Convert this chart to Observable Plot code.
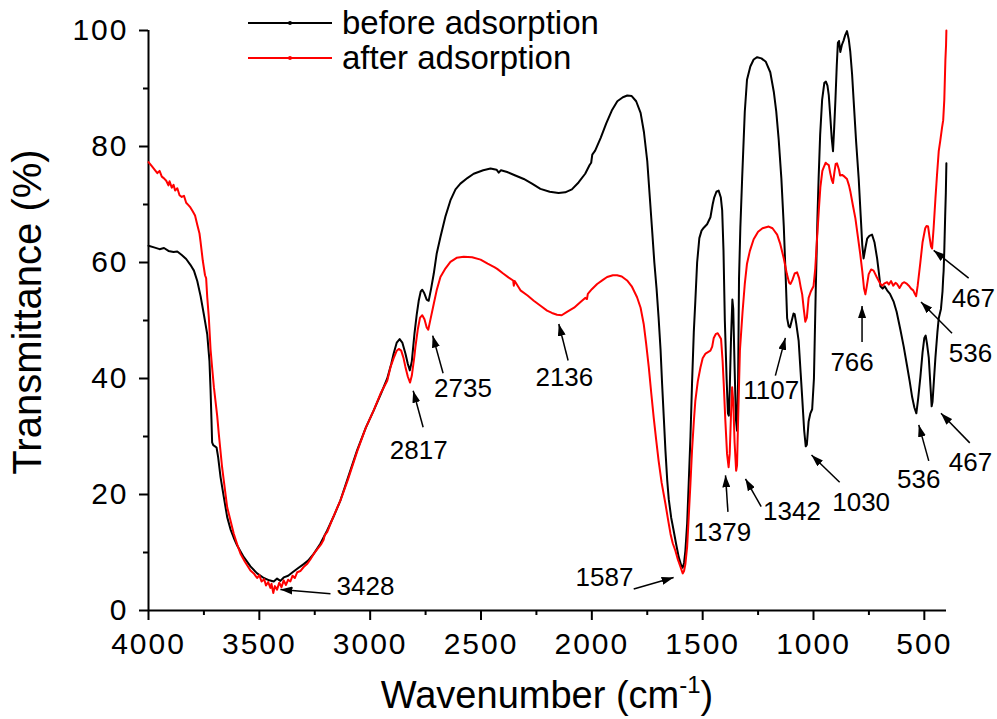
<!DOCTYPE html>
<html>
<head>
<meta charset="utf-8">
<script src="https://cdn.jsdelivr.net/npm/d3@7"></script>
<script src="https://cdn.jsdelivr.net/npm/@observablehq/plot@0.6"></script>
<style>
  body { margin: 0; background: #fff; }
  #chart svg { display: block; }
  g[aria-label="x-axis tick label"] text, g[aria-label="y-axis tick label"] text { letter-spacing: 2px; }
</style>
</head>
<body>
<div id="chart"></div>
<script>
// ---- Axis ticks ----
const xMajorTicks = [4000, 3500, 3000, 2500, 2000, 1500, 1000, 500];
const xMinorTicks = [3750, 3250, 2750, 2250, 1750, 1250, 750];
const yMajorTicks = [0, 20, 40, 60, 80, 100];
const yMinorTicks = [10, 30, 50, 70, 90];
const xDomain = [4000, 400];
const yDomain = [0, 100];

// ---- Series: before adsorption (black) ----
const beforeWn = [4000,3975,3950,3930,3910,3887,3870,3850,3830,3811,3795,3780,3765,3750,3735,3725,3720,3716,3713,3708,3700,3693,3686,3675,3660,3645,3630,3615,3600,3570,3540,3510,3480,3455,3435,3420,3405,3390,3370,3350,3329,3300,3280,3254,3225,3194,3165,3134,3100,3059,3020,2984,2950,2923,2905,2894,2880,2867,2855,2841,2830,2821,2812,2800,2790,2781,2772,2765,2757,2745,2736,2725,2713,2700,2683,2660,2638,2615,2593,2560,2533,2490,2457,2430,2420,2410,2382,2345,2307,2270,2232,2190,2150,2120,2090,2060,2030,2010,2003,1998,1985,1960,1935,1910,1885,1860,1840,1820,1800,1780,1765,1750,1738,1727,1718,1708,1699,1690,1683,1675,1668,1660,1653,1642,1631,1620,1608,1597,1590,1584,1578,1570,1563,1555,1548,1540,1533,1525,1515,1505,1495,1480,1465,1455,1448,1438,1428,1418,1412,1406,1400,1392,1386,1382,1378,1372,1366,1362,1356,1350,1345,1340,1336,1330,1322,1310,1300,1285,1270,1254,1235,1215,1195,1179,1168,1157,1145,1134,1125,1119,1112,1106,1098,1090,1085,1078,1067,1058,1051,1042,1035,1030,1022,1014,1006,998,990,982,977,970,961,951,944,937,931,924,918,912,907,901,895,890,885,879,872,864,857,849,841,834,826,819,808,796,787,780,774,766,758,748,736,725,713,705,698,688,679,668,655,638,625,608,593,578,566,555,545,536,528,518,508,500,494,488,480,472,467,463,457,450,441,435,425,418,415,413,410,406,403,400.5];
const beforeT = [62.9,62.6,62.3,62.5,62.0,61.8,61.9,61.3,60.6,59.6,58.6,56.8,54.2,51.0,47.6,43,38,33,29,28.5,28.3,28.1,26.5,23,19.5,16.1,14,12.5,11.2,9.2,7.6,6.4,5.6,5.2,5.0,5.5,5.1,5.7,6.0,6.6,7.2,8.0,8.6,9.8,11.5,13.8,16.2,19.0,22.9,27.6,31.5,34.5,37.5,40.0,42.5,44.3,46.2,46.8,46.2,44.3,42.5,41.4,43,47.8,51,53.4,55.0,55.3,54.8,53.6,53.4,55.5,58.1,61.5,64.4,68.0,70.7,72.6,73.6,74.6,75.3,75.9,76.2,76.0,75.5,75.9,75.6,75.0,74.4,73.6,72.7,72.2,72.0,72.1,72.6,73.8,75.3,76.8,77.2,78.6,79.3,81.5,84.0,86.2,87.8,88.5,88.8,88.7,87.8,85.8,82.5,77.5,71,65,60,55.5,50.6,45,39.1,33,27.6,22.5,19.2,16,13.8,11.5,9.2,7.8,7.4,8.2,10.3,15,21.9,30,39.1,48,53.4,60,64.2,65.5,66.0,66.6,67.8,70.0,71.2,72.2,72.4,71.2,69,62,50,40,34,33.6,38,47,53.6,52,42,33,31.0,40,57.3,66,74.4,86,91.5,93.8,95.0,95.4,95.2,94.6,92.8,89.4,86,81.2,74.5,66.2,57,50.4,49,48.8,50,51.2,51.1,49.5,46.5,41,36.7,31,28.3,28.6,32.6,34.0,34.7,40,55,68,74.4,82,88.1,91.0,91.2,90.5,88.8,85,81.5,79.2,83,88.1,94,97.9,98.2,96.3,97.5,98.3,99.2,99.9,98.5,96.3,92.5,88,81,74.4,68,63,60.7,62.5,64.1,64.6,64.8,63.5,60.7,58.2,55.9,55.5,55.9,55.2,54.6,53.2,51.5,48.4,45.5,42.2,39.5,36.8,35.0,34.0,36.5,40.2,44.5,47.0,47.4,46,43.6,38.5,35.2,36,39.5,43.6,48,50.4,52,55,57.3,58.5,62,68,72,77.1];

// ---- Series: after adsorption (red) ----
const afterWn = [4000,3985,3970,3960,3950,3940,3930,3920,3910,3905,3895,3887,3880,3870,3860,3850,3840,3830,3820,3811,3800,3790,3780,3770,3765,3755,3745,3740,3735,3728,3720,3713,3705,3698,3690,3683,3668,3645,3615,3600,3585,3565,3540,3525,3510,3500,3490,3478,3470,3460,3450,3445,3437,3430,3420,3410,3400,3390,3380,3370,3360,3350,3340,3329,3315,3300,3285,3270,3254,3240,3220,3210,3205,3194,3170,3134,3100,3059,3020,2984,2953,2923,2908,2894,2880,2871,2860,2850,2841,2830,2820,2812,2800,2796,2785,2775,2765,2755,2745,2738,2728,2713,2700,2683,2660,2638,2610,2578,2540,2502,2470,2440,2427,2400,2375,2355,2352,2348,2322,2290,2262,2230,2202,2180,2157,2136,2112,2080,2051,2030,2022,2018,2000,1976,1950,1931,1905,1886,1865,1841,1820,1796,1780,1766,1755,1743,1732,1721,1710,1699,1685,1668,1655,1645,1635,1623,1612,1600,1590,1584,1578,1570,1563,1555,1548,1540,1533,1522,1510,1500,1487,1465,1457,1450,1440,1432,1424,1417,1410,1405,1398,1390,1383,1378,1372,1367,1362,1356,1349,1345,1340,1332,1320,1310,1300,1287,1270,1250,1230,1202,1185,1164,1150,1134,1120,1110,1104,1095,1085,1074,1065,1058,1051,1044,1037,1030,1022,1012,1000,992,984,976,969,960,954,945,940,931,925,918,912,906,900,894,885,880,871,860,849,840,834,823,811,800,789,780,772,766,760,751,740,729,715,698,690,680,668,660,650,640,630,623,612,600,590,578,570,560,550,543,537,530,518,508,496,490,483,477,470,465,458,450,443,435,428,420,415,410,405,402,400.5];
const afterT = [77.3,76.6,75.9,75.4,75.8,74.8,74.5,74.1,73.3,74.0,72.9,73.4,72.4,72.8,71.6,71.3,71.5,70.3,69.9,69.5,68.8,68.1,66.5,65,63.5,60.3,57.8,57.3,54,50.6,45,41.9,38.5,36.2,33.5,30.5,24.7,17.8,13.2,11.4,9.8,8.4,6.9,6.4,5.6,6.1,5.0,5.4,4.3,4.9,3.9,4.6,3.0,4.2,3.6,4.8,4.0,5.2,4.4,5.3,5.0,6.0,5.6,6.6,6.8,7.5,8.0,8.8,9.8,10.5,11.5,12.2,13.0,13.5,15.8,19.0,22.6,27.4,31.5,34.5,37.4,39.6,42.0,43.5,44.8,45.1,44.8,43.6,42.0,40.3,39.3,40.5,44,45.4,48.5,50.5,50.9,50.2,48.8,48.4,50.2,52.9,55.2,57.5,59.0,60.1,60.8,61.0,60.9,60.5,59.8,59.2,58.9,58.1,57.4,56.9,56.0,56.8,55.2,54.3,53.4,52.5,51.7,51.3,51.0,50.9,51.5,52.2,53.2,53.9,53.7,54.6,55.4,56.3,57.0,57.5,57.8,57.8,57.6,56.9,55.9,54.0,52.2,49.4,46,41.9,37.5,33.3,29.5,25.9,22,18.4,15.4,13.2,11.6,10.3,8.8,7.5,6.4,6.8,8.0,11,16.1,22,27.6,32.5,36.2,39.5,41.9,43.5,44.3,44.8,45.5,47.0,47.7,47.8,47.3,46.8,43,39.1,33,27,24.7,27,34,38.5,36,29,24.1,25,33,44.8,51.5,56.3,59.8,62.0,64.0,65.3,65.9,66.2,65.9,64.8,63.2,60.7,58,56.5,56.3,57,58.1,58.3,57.3,55.8,54.5,52,49.8,50.5,53.9,55,55.9,59,64.1,69,73,75.8,76.4,77.2,77.0,76.8,75.5,74.3,73.7,75.5,77.0,77.1,76.0,75.0,75.1,74.8,74.4,73.3,72.3,70,67.6,64.5,61.4,58.5,55.5,54.5,55.8,58.0,58.8,58.6,57.5,56.3,56.0,56.4,56.6,56.2,56.8,56.0,56.5,56.3,55.6,56.4,56.6,56.3,56.0,55.5,55.2,54.6,54.2,56,60,63.5,65.9,66.3,66.2,64.5,62.8,62.4,66,71,75,79.2,81,83.3,84.5,88,94.9,97.5,100];

// ---- Peak annotations ----
const annLabels = ["3428","2817","2735","2136","1587","1379","1342","1107","1030","766","536","467","536","467"];
const annTextWn = [3021,2781,2581,2124,1943,1412,1097,1191,785,826,525,292,292,279];
const annTextT  = [4.1,27.6,38.2,40.2,5.7,13.5,17.1,37.9,18.6,42.8,22.6,25.5,44.3,53.7];
const arrowTailWn = [3179,2761,2671,2107,1811,1386,1236,1172,882,781,480,295,375,300];
const arrowTailT  = [2.9,31.6,40.9,43.1,3.7,17.0,17.9,40.5,22.1,46.3,25.8,28.9,47.8,57.3];
const arrowTipWn  = [3405,2806,2718,2149,1631,1397,1307,1127,1009,781,525,425,515,458];
const arrowTipT   = [3.6,37.9,47.4,49.4,5.7,23.3,22.7,47.0,26.8,52.5,32.0,34.0,53.2,62.1];

// ---- Legend ----
const seriesNames = ["before adsorption", "after adsorption"];
const seriesColors = ["#000000", "#ff0000"];

const before = beforeWn.map((w, i) => ({wn: w, t: beforeT[i]}));
const after = afterWn.map((w, i) => ({wn: w, t: afterT[i]}));
const annotations = annLabels.map((l, i) => ({
  label: l, tx: annTextWn[i], ty: annTextT[i],
  x1: arrowTailWn[i], y1: arrowTailT[i], x2: arrowTipWn[i], y2: arrowTipT[i]
}));

const chart = Plot.plot({
  width: 997,
  height: 719,
  marginLeft: 148,
  marginRight: 51,
  marginTop: 30,
  marginBottom: 109,
  style: {fontFamily: "'Liberation Sans', Arial, sans-serif", background: "white", color: "black", overflow: "visible"},
  x: {domain: xDomain},
  y: {domain: yDomain},
  marks: [
    Plot.axisX({ticks: xMajorTicks, tickSize: 10, tickPadding: 12, tickFormat: d3.format("d"), fontSize: 30, strokeWidth: 2, label: null}),
    Plot.axisX({ticks: xMinorTicks, tickSize: 5, tickFormat: () => "", strokeWidth: 2, label: null}),
    Plot.axisY({ticks: yMajorTicks, tickSize: 9, tickPadding: 11, tickFormat: d3.format("d"), fontSize: 30, strokeWidth: 2, label: null}),
    Plot.axisY({ticks: yMinorTicks, tickSize: 5, tickFormat: () => "", strokeWidth: 2, label: null}),
    Plot.ruleX([xDomain[0]], {stroke: "black", strokeWidth: 2}),
    Plot.ruleY([yDomain[0]], {stroke: "black", strokeWidth: 2}),
    Plot.line(before, {x: "wn", y: "t", stroke: seriesColors[0], strokeWidth: 2}),
    Plot.line(after, {x: "wn", y: "t", stroke: seriesColors[1], strokeWidth: 2}),
    Plot.link(annotations, {x1: "x1", y1: "y1", x2: "x2", y2: "y2", stroke: "black", strokeWidth: 1.5, className: "annot-arrows"}),
    Plot.text(annotations, {x: "tx", y: "ty", text: "label", fontSize: 26, fill: "black"})
  ]
});

const svg = d3.select(chart);
const defs = svg.append("defs");
defs.append("marker")
  .attr("id", "filledArrow")
  .attr("viewBox", "0 0 12 8")
  .attr("refX", 12).attr("refY", 4)
  .attr("markerWidth", 12).attr("markerHeight", 8)
  .attr("markerUnits", "userSpaceOnUse")
  .attr("orient", "auto")
  .append("path").attr("d", "M0,0L12,4L0,8Z").attr("fill", "black");
svg.selectAll(".annot-arrows path").attr("marker-end", "url(#filledArrow)");

// axis titles
svg.append("text")
  .attr("transform", "translate(41,312) rotate(-90)")
  .attr("text-anchor", "middle")
  .attr("font-size", 40)
  .attr("fill", "black")
  .text("Transmittance (%)");
const xt = svg.append("text")
  .attr("x", 547).attr("y", 708)
  .attr("text-anchor", "middle")
  .attr("font-size", 38)
  .attr("fill", "black");
xt.append("tspan").text("Wavenumber (cm");
xt.append("tspan").attr("font-size", 24).attr("dy", -15).text("-1");
xt.append("tspan").attr("dy", 15).text(")");

// legend
const lg = svg.append("g").attr("text-anchor", "start");
seriesNames.forEach((name, i) => {
  const cy = 23 + i * 35;
  lg.append("line").attr("x1", 248).attr("x2", 332).attr("y1", cy).attr("y2", cy)
    .attr("stroke", seriesColors[i]).attr("stroke-width", 2);
  lg.append("circle").attr("cx", 290).attr("cy", cy).attr("r", 2).attr("fill", seriesColors[i]);
  lg.append("text").attr("x", 342).attr("y", cy + 11).attr("text-anchor", "start")
    .attr("font-size", 33).attr("fill", "black").text(name);
});

document.getElementById("chart").appendChild(chart);
</script>
</body>
</html>
